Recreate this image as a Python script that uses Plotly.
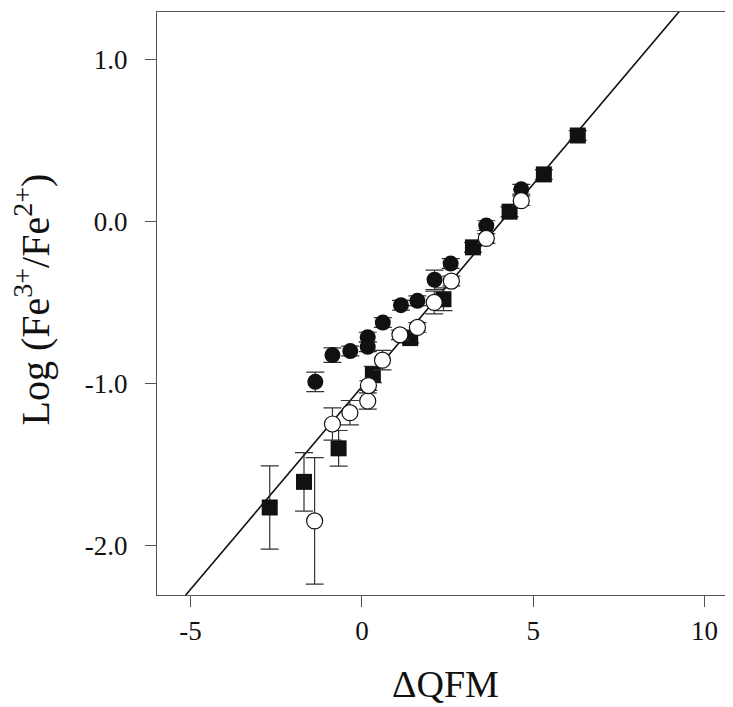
import plotly.graph_objects as go

# Filled squares
sq_x = [-2.69, -1.69, -0.68, 0.32, 1.41, 2.38, 3.24, 4.31, 5.31, 6.30]
sq_y = [-1.765, -1.607, -1.40, -0.945, -0.72, -0.48, -0.16, 0.06, 0.29, 0.53]
sq_err = [0.257, 0.18, 0.11, 0.05, 0.03, 0.07, 0.03, 0.03, 0.03, 0.03]

# Filled circles
fc_x = [-1.36, -0.86, -0.34, 0.17, 0.17, 0.61, 1.14, 1.62, 2.12, 2.59, 3.63, 4.65]
fc_y = [-0.99, -0.825, -0.80, -0.714, -0.774, -0.624, -0.517, -0.49, -0.36, -0.26, -0.026, 0.198]
fc_err = [0.06, 0.045, 0.03, 0.03, 0.03, 0.03, 0.03, 0.03, 0.06, 0.03, 0.03, 0.03]

# Open circles
oc_x = [-1.38, -0.86, -0.35, 0.17, 0.19, 0.60, 1.11, 1.62, 2.11, 2.61, 3.63, 4.65]
oc_y = [-1.848, -1.25, -1.18, -1.108, -1.013, -0.856, -0.70, -0.654, -0.50, -0.368, -0.105, 0.128]
oc_err = [0.39, 0.10, 0.075, 0.05, 0.03, 0.06, 0.03, 0.03, 0.07, 0.03, 0.03, 0.03]

# Fit line
fit_slope = 0.25
fit_intercept = -1.02
fit_x = [-6.0, 11.0]
fit_y = [fit_slope * v + fit_intercept for v in fit_x]

x_ticks = [-5, 0, 5, 10]
y_ticks = [1.0, 0.0, -1.0, -2.0]
y_ticklabels = ["1.0", "0.0", "-1.0", "-2.0"]

x_title = "ΔQFM"
y_title = "Log (Fe<sup>3+</sup>/Fe<sup>2+</sup>)"

font_family = "Liberation Serif"
ink = "#111111"
axis_col = "#555555"

fig = go.Figure()
fig.add_trace(go.Scatter(x=fit_x, y=fit_y, mode="lines",
                         line=dict(color=ink, width=1.6), hoverinfo="skip"))

def err(vals):
    return dict(type="data", array=vals, visible=True, color="#333333",
                thickness=1.2, width=9)

fig.add_trace(go.Scatter(x=sq_x, y=sq_y, mode="markers", error_y=err(sq_err),
                         marker=dict(symbol="square", size=16, color=ink,
                                     line=dict(width=0))))
fig.add_trace(go.Scatter(x=fc_x, y=fc_y, mode="markers", error_y=err(fc_err),
                         marker=dict(symbol="circle", size=16, color=ink,
                                     line=dict(width=0))))
fig.add_trace(go.Scatter(x=oc_x, y=oc_y, mode="markers", error_y=err(oc_err),
                         marker=dict(symbol="circle", size=16, color="white",
                                     line=dict(width=1.2, color=ink))))

# The page body adds an 8 px margin, so the figure is drawn at 725x699.
fig.update_layout(
    width=725, height=699,
    margin=dict(l=149, r=0, t=4, b=112),
    paper_bgcolor="white", plot_bgcolor="white",
    showlegend=False,
    font=dict(family=font_family, color=ink, size=27),
    annotations=[
        dict(text=x_title, xref="paper", yref="paper", x=0.5, y=0,
             xanchor="center", yanchor="middle", yshift=-89, showarrow=False,
             font=dict(size=38, family=font_family, color=ink)),
        dict(text=y_title, xref="paper", yref="paper", x=0, y=0.5,
             xanchor="center", yanchor="middle", xshift=-124, yshift=4,
             textangle=-90, showarrow=False,
             font=dict(size=40, family=font_family, color=ink)),
    ],
)
fig.update_xaxes(
    range=[-5.98, 10.83], tickvals=x_ticks, ticktext=[str(v) for v in x_ticks],
    showgrid=False, zeroline=False, showline=True, linecolor=axis_col, linewidth=1.3,
    mirror=True, ticks="outside", ticklen=11, tickcolor=axis_col, tickwidth=1.3,
    tickfont=dict(size=27, family=font_family), automargin=False,
)
fig.update_yaxes(
    range=[-2.305, 1.292], tickvals=y_ticks, ticktext=y_ticklabels,
    showgrid=False, zeroline=False, showline=True, linecolor=axis_col, linewidth=1.3,
    mirror=False, ticks="outside", ticklen=11, tickcolor=axis_col, tickwidth=1.3,
    tickfont=dict(size=27, family=font_family), automargin=False,
    ticklabelstandoff=12,
)

fig.write_html("out.html")
